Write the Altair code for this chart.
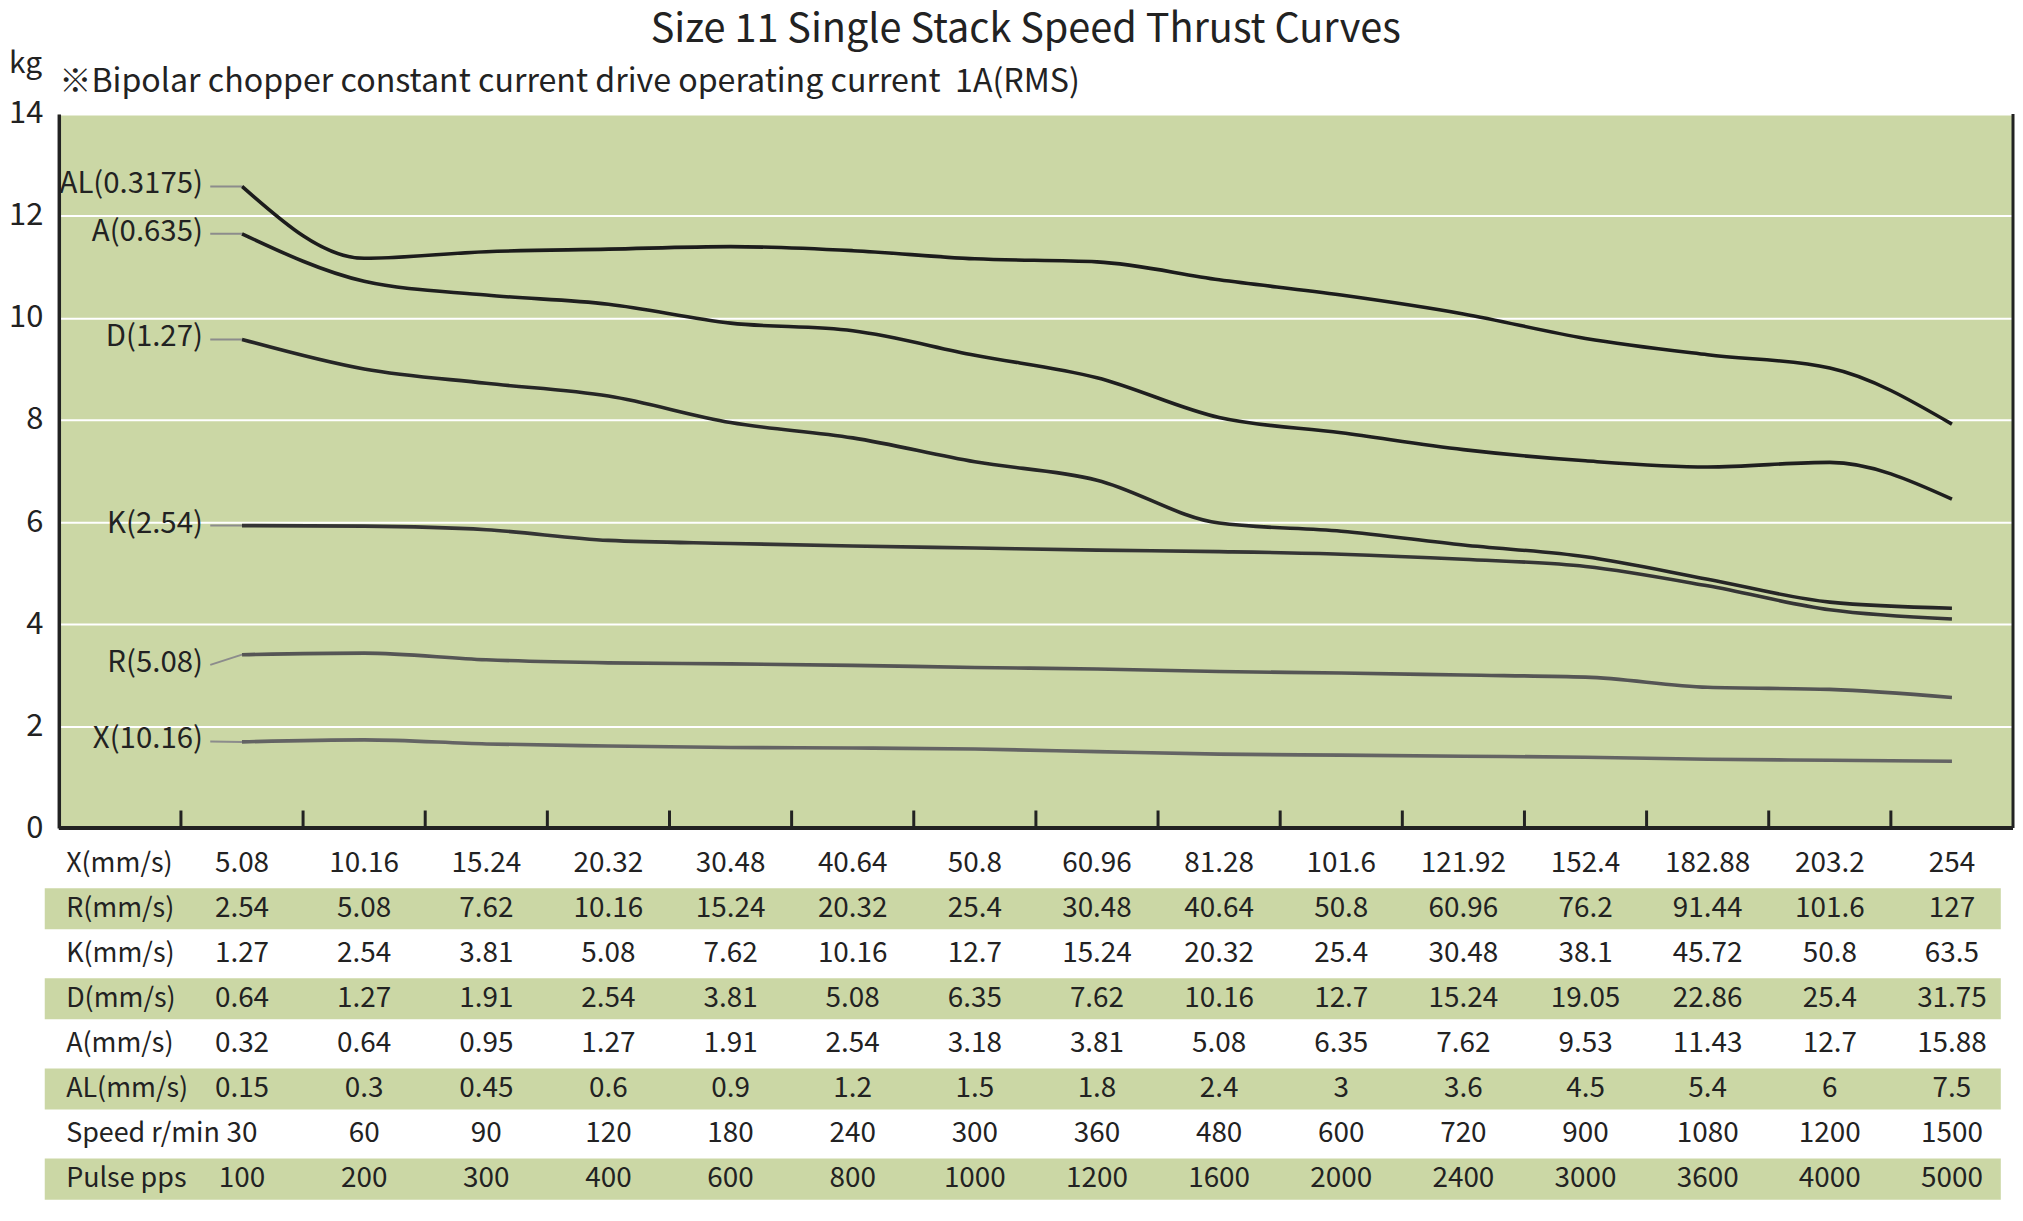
import altair as alt
import pandas as pd

FONT = "Noto Sans CJK JP"
GREEN = "#CBD7A5"
INK = "#222222"

# ---------------- data ----------------
series_names = ["AL(0.3175)", "A(0.635)", "D(1.27)", "K(2.54)", "R(5.08)", "X(10.16)"]
series_colors = ["#1c1c1c", "#1f1f1f", "#262626", "#353535", "#555555", "#646464"]

AL = [12.58, 11.17, 11.30, 11.35, 11.40, 11.32, 11.16, 11.10, 10.75, 10.45, 10.08, 9.60, 9.28, 9.02, 7.92]
A = [11.65, 10.72, 10.45, 10.27, 9.90, 9.75, 9.27, 8.83, 8.05, 7.75, 7.42, 7.20, 7.08, 7.17, 6.45]
D = [9.58, 9.00, 8.72, 8.47, 7.95, 7.65, 7.18, 6.82, 5.98, 5.82, 5.55, 5.32, 4.88, 4.43, 4.31]
K = [5.93, 5.92, 5.85, 5.64, 5.58, 5.53, 5.49, 5.45, 5.42, 5.37, 5.27, 5.13, 4.75, 4.28, 4.10]
R = [3.40, 3.43, 3.30, 3.24, 3.22, 3.19, 3.15, 3.12, 3.07, 3.04, 3.00, 2.96, 2.76, 2.72, 2.56]
X = [1.69, 1.73, 1.65, 1.61, 1.58, 1.57, 1.55, 1.50, 1.45, 1.43, 1.41, 1.39, 1.35, 1.33, 1.31]
series_values = [AL, A, D, K, R, X]

# curve label anchor heights (kg)
label_y = [12.58, 11.65, 9.58, 5.93, 3.20, 1.70]

y_ticks = [0, 2, 4, 6, 8, 10, 12, 14]

row_labels = ["X(mm/s)", "R(mm/s)", "K(mm/s)", "D(mm/s)", "A(mm/s)", "AL(mm/s)", "Speed r/min", "Pulse pps"]
row_X = ["5.08", "10.16", "15.24", "20.32", "30.48", "40.64", "50.8", "60.96", "81.28", "101.6", "121.92", "152.4", "182.88", "203.2", "254"]
row_R = ["2.54", "5.08", "7.62", "10.16", "15.24", "20.32", "25.4", "30.48", "40.64", "50.8", "60.96", "76.2", "91.44", "101.6", "127"]
row_K = ["1.27", "2.54", "3.81", "5.08", "7.62", "10.16", "12.7", "15.24", "20.32", "25.4", "30.48", "38.1", "45.72", "50.8", "63.5"]
row_D = ["0.64", "1.27", "1.91", "2.54", "3.81", "5.08", "6.35", "7.62", "10.16", "12.7", "15.24", "19.05", "22.86", "25.4", "31.75"]
row_A = ["0.32", "0.64", "0.95", "1.27", "1.91", "2.54", "3.18", "3.81", "5.08", "6.35", "7.62", "9.53", "11.43", "12.7", "15.88"]
row_AL = ["0.15", "0.3", "0.45", "0.6", "0.9", "1.2", "1.5", "1.8", "2.4", "3", "3.6", "4.5", "5.4", "6", "7.5"]
row_speed = ["30", "60", "90", "120", "180", "240", "300", "360", "480", "600", "720", "900", "1080", "1200", "1500"]
row_pulse = ["100", "200", "300", "400", "600", "800", "1000", "1200", "1600", "2000", "2400", "3000", "3600", "4000", "5000"]
table_values = [row_X, row_R, row_K, row_D, row_A, row_AL, row_speed, row_pulse]
green_rows = ["R(mm/s)", "D(mm/s)", "AL(mm/s)", "Pulse pps"]

TITLE = "Size 11 Single Stack Speed Thrust Curves"
SUBTITLE = "\u203bBipolar chopper constant current drive operating current \u00a01A(RMS)"
UNIT = "kg"

# ---------------- frames ----------------
N_BANDS = 16
Y_MAX = 14
curve_rows = []
for name, vals in zip(series_names, series_values):
    for i, v in enumerate(vals):
        curve_rows.append({"series": name, "pos": i + 1.5, "kg": v})
curves_df = pd.DataFrame(curve_rows)

labels_df = pd.DataFrame({
    "series": series_names,
    "lx": [1.18] * len(series_names),
    "ly": label_y,
    "x0": [1.24] * len(series_names),
    "x1": [1.5] * len(series_names),
    "y1": [vals[0] for vals in series_values],
})

ticks_df = pd.DataFrame({"pos": list(range(1, N_BANDS)),
                         "y0": [0.0] * (N_BANDS - 1),
                         "y1": [0.345] * (N_BANDS - 1)})
border_df = pd.DataFrame({"pos": [N_BANDS], "y0": [0], "y1": [Y_MAX]})
base_df = pd.DataFrame({"x0": [0], "x1": [N_BANDS], "y0": [0]})

cells = []
for lab, vals in zip(row_labels, table_values):
    for i, v in enumerate(vals):
        cells.append({"row": lab, "pos": i + 1.5, "txt": v})
cells_df = pd.DataFrame(cells)
rowlab_df = pd.DataFrame({"row": row_labels, "pos": [0.06] * len(row_labels)})
green_df = pd.DataFrame({"row": green_rows,
                         "x0": [-0.115] * len(green_rows),
                         "x1": [15.9] * len(green_rows)})

# ---------------- scales ----------------
W = 1962
H = 717
xs = alt.Scale(domain=[0, N_BANDS], nice=False, zero=False)
ys = alt.Scale(domain=[0, Y_MAX], nice=False, zero=False)

y_axis = alt.Axis(
    values=y_ticks, grid=True, gridColor="white", gridWidth=2, ticks=False,
    domainColor=INK, domainWidth=3.5, labelFont=FONT, labelFontSize=31,
    labelColor=INK, labelPadding=16,
    title=SUBTITLE, titleAngle=0, titleX=0, titleY=-22.5, titleAlign="left",
    titleBaseline="alphabetic", titleFont=FONT, titleFontSize=32.3,
    titleFontWeight="normal", titleColor=INK,
)

lines = alt.Chart(curves_df).mark_line(interpolate="monotone", strokeWidth=3.6).encode(
    x=alt.X("pos:Q", scale=xs, axis=None),
    y=alt.Y("kg:Q", scale=ys, axis=y_axis),
    color=alt.Color("series:N", scale=alt.Scale(domain=series_names, range=series_colors), legend=None),
)

leaders = alt.Chart(labels_df).mark_rule(color="#8c8c8c", strokeWidth=2).encode(
    x="x0:Q", x2="x1:Q", y="ly:Q", y2="y1:Q",
)

curve_labels = alt.Chart(labels_df).mark_text(
    align="right", baseline="middle", font=FONT, fontSize=29.5, color=INK, dy=-2,
).encode(x="lx:Q", y="ly:Q", text="series:N")

inner_ticks = alt.Chart(ticks_df).mark_rule(color=INK, strokeWidth=3).encode(
    x="pos:Q", y="y0:Q", y2="y1:Q",
)

right_border = alt.Chart(border_df).mark_rule(color=INK, strokeWidth=3).encode(
    x="pos:Q", y="y0:Q", y2="y1:Q",
)

baseline_rule = alt.Chart(base_df).mark_rule(color=INK, strokeWidth=4).encode(
    x="x0:Q", x2="x1:Q", y="y0:Q",
)

plot = alt.layer(lines, leaders, curve_labels, inner_ticks, right_border, baseline_rule).properties(
    width=W, height=H,
    view=alt.ViewBackground(fill=GREEN, stroke=None),
    title=alt.TitleParams(
        UNIT, anchor="start", frame="group", font=FONT, fontSize=30,
        fontWeight="normal", color=INK, dx=-50, dy=13.5, offset=0,
    ),
)

# ---------------- table ----------------
yb = alt.Scale(domain=row_labels, paddingInner=0.09, paddingOuter=0)

green_bands = alt.Chart(green_df).mark_rect(color=GREEN).encode(
    y=alt.Y("row:N", scale=yb, axis=None),
    x=alt.X("x0:Q", scale=xs, axis=None), x2="x1:Q",
)
row_text = alt.Chart(rowlab_df).mark_text(
    align="left", baseline="middle", font=FONT, fontSize=27, color=INK,
).encode(
    x=alt.X("pos:Q", scale=xs, axis=None),
    y=alt.Y("row:N", scale=yb, axis=None),
    text="row:N",
)
cell_text = alt.Chart(cells_df).mark_text(
    align="center", baseline="middle", font=FONT, fontSize=28, color=INK,
).encode(
    x=alt.X("pos:Q", scale=xs, axis=None),
    y=alt.Y("row:N", scale=yb, axis=None),
    text="txt:N",
)
table = alt.layer(green_bands, row_text, cell_text).properties(
    width=W, height=358,
)

chart = alt.vconcat(plot, table, spacing=0).properties(
    title=alt.TitleParams(
        TITLE, anchor="middle", font=FONT, fontSize=39.8, fontWeight="normal",
        color=INK, dx=14, offset=-2,
    ),
    padding=0,
).configure(font=FONT).configure_view(stroke=None)

chart.save("out.html", embed_options={"renderer": "svg", "actions": False})
